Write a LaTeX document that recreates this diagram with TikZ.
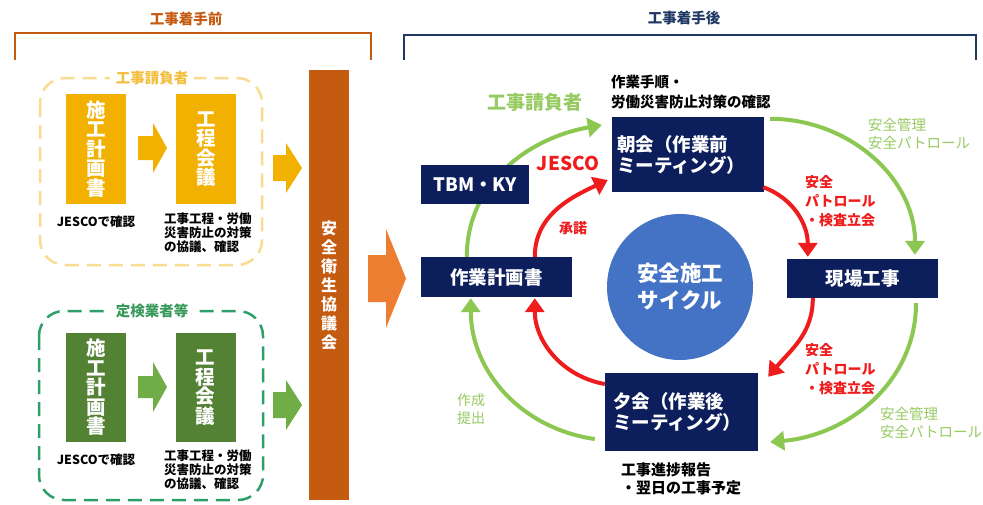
\documentclass[tikz,border=0pt]{standalone}
\usepackage{fontspec}
\setmainfont{Noto Sans CJK JP}
\usetikzlibrary{arrows.meta,positioning}

\definecolor{cbrown}{HTML}{C55A11}
\definecolor{corange}{HTML}{ED7D31}
\definecolor{cyellow}{HTML}{F2B000}
\definecolor{cyellowdash}{HTML}{F8DC90}
\definecolor{cyellowtxt}{HTML}{F3BE3C}
\definecolor{cgreen}{HTML}{548235}
\definecolor{cgreenarr}{HTML}{70AD47}
\definecolor{cteal}{HTML}{2E9E6B}
\definecolor{ctealtxt}{HTML}{3A9A5C}
\definecolor{cnavy}{HTML}{0D1E5C}
\definecolor{cbracket}{HTML}{1F3864}
\definecolor{cblue}{HTML}{4472C4}
\definecolor{cred}{HTML}{EE1C1C}
\definecolor{clight}{HTML}{8CC751}
\definecolor{clighttxt}{HTML}{97CB62}

% block arrow: colour, x0, x head, x tip, y centre, shaft half, head half
\newcommand{\blockarrow}[7]{%
  \fill[#1] (#2,#5+#6) -- (#3,#5+#6) -- (#3,#5+#7) -- (#4,#5) -- (#3,#5-#7) -- (#3,#5-#6) -- (#2,#5-#6) -- cycle;}

\begin{document}
\begin{tikzpicture}[x=1pt, y=1pt, >={Triangle[length=14pt,width=19pt]},
    vbox/.style={minimum width=60pt, minimum height=110pt, inner sep=0pt, text=white, align=center,
      font=\bfseries\fontsize{19.5}{19.5}\selectfont},
    navybox/.style={fill=cnavy, text=white, inner sep=0pt, font=\bfseries\fontsize{18.5}{21}\selectfont},
    note/.style={inner sep=0pt, align=left, font=\bfseries\fontsize{12.5}{14}\selectfont},
    grplbl/.style={fill=white, inner xsep=6pt, inner ysep=0pt, font=\bfseries\fontsize{14.5}{15}\selectfont},
    blbl/.style={inner sep=0pt, align=left, font=\bfseries\fontsize{14.5}{20}\selectfont},
    rlbl/.style={inner sep=0pt, align=left, text=cred, font=\bfseries\fontsize{14}{19}\selectfont},
    glbl/.style={inner sep=0pt, align=left, text=clighttxt, font=\fontsize{14.5}{18}\selectfont},
    garrow/.style={->, draw=clight, line width=4pt},
    rarrow/.style={->, draw=cred, line width=4pt}]
  \fill[white] (0,-504) rectangle (983,0);
  \useasboundingbox (0,-504) rectangle (983,0);

  % brackets
  \draw[cbrown, line width=2.5pt] (15,-60) -- (15,-33) -- (371,-33) -- (371,-60);
  \node[font=\bfseries\fontsize{14.5}{15}\selectfont, text=cbrown] (before) at (186,-19) {工事着手前};
  \draw[cbracket, line width=2.5pt] (404,-60) -- (404,-35) -- (976,-35) -- (976,-60);
  \node[font=\bfseries\fontsize{14.5}{15}\selectfont, text=cbracket] (after) at (684,-18) {工事着手後};

  % before: contractor
  \draw[cyellowdash, line width=2.5pt, dash pattern=on 14pt off 8pt, rounded corners=25pt] (40,-78) rectangle (262,-265);
  \node[grplbl, text=cyellowtxt] (grp1) at (152,-78) {工事請負者};
  \node[vbox, fill=cyellow] (plan1) at (96,-149) {施\\工\\計\\画\\書};
  \node[vbox, fill=cyellow] (meet1) at (206,-149) {工\\程\\会\\議};
  \node[note, below=11pt of plan1] (chk1) {JESCOで確認};
  \node[note, anchor=north west] (agr1) at (164,-213) {工事工程・労働\\災害防止の対策\\の協議、確認};
  \blockarrow{cyellow}{138}{153}{167}{-148}{12}{25}
  \blockarrow{cyellow}{273}{286}{302}{-168}{13}{25}

  % before: inspection contractors
  \draw[cteal, line width=2.5pt, dash pattern=on 14pt off 8pt, rounded corners=25pt] (39,-311) rectangle (263,-500);
  \node[grplbl, text=ctealtxt] (grp2) at (152,-311) {定検業者等};
  \node[vbox, fill=cgreen, minimum height=109pt] (plan2) at (96,-387.5) {施\\工\\計\\画\\書};
  \node[vbox, fill=cgreen, minimum height=109pt] (meet2) at (205.5,-387.5) {工\\程\\会\\議};
  \node[note, below=11pt of plan2] (chk2) {JESCOで確認};
  \node[note, anchor=north west] (agr2) at (164,-450) {工事工程・労働\\災害防止の対策\\の協議、確認};
  \blockarrow{cgreenarr}{138}{153}{167}{-387}{11}{25}
  \blockarrow{cgreenarr}{273}{286}{302}{-405}{13}{25}

  % council
  \node[fill=cbrown, minimum width=40pt, minimum height=430pt, inner sep=0pt, text=white, align=center,
    font=\bfseries\fontsize{16}{19}\selectfont] (council) at (329,-285) {安\\全\\衛\\生\\協\\議\\会};
  \blockarrow{corange}{368}{386}{406}{-278.5}{23.5}{49.5}

  % after: cycle
  \node[circle, fill=cblue, minimum size=146pt, inner sep=0pt, text=white, align=center,
    font=\bfseries\fontsize{21.5}{27}\selectfont] (cycle) at (680,-287) {安全施工\\サイクル};
  \node[navybox, minimum width=152pt, minimum height=75pt, text width=142pt, inner xsep=5pt, align=left] (morning) at (688,-154.5) {朝会（作業前\\ミーティング）};
  \node[navybox, minimum width=151pt, minimum height=40pt] (plan) at (496.5,-277) {作業計画書};
  \node[navybox, minimum width=151pt, minimum height=39pt] (site) at (862.5,-278.5) {現場工事};
  \node[navybox, minimum width=153pt, minimum height=78pt, text width=137pt, inner xsep=8pt, align=left] (evening) at (681.5,-412) {夕会（作業後\\ミーティング）};

  \draw[garrow] ([shift={(46,0)}]plan.north west) to [out=90, in=190] ([shift={(-10,29.5)}]morning.west);
  \node[navybox, minimum width=108pt, minimum height=39pt] (tbm) at (475,-184.5) {TBM・KY};
  \draw[rarrow] ([shift={(114,0)}]plan.north west) to [out=90, in=205] ([shift={(-4,-25.5)}]morning.west);
  \draw[garrow] ([shift={(6,-2)}]morning.north east) to [out=0, in=90] ([shift={(52.5,4)}]site.north);
  \draw[rarrow] ([shift={(-1,5)}]morning.south east) to [out=-20, in=90] ([shift={(21,2)}]site.north west);
  \draw[rarrow] ([shift={(26,0)}]site.south west) to [out=-90, in=50] ([shift={(10,-4)}]evening.north east);
  \draw[garrow] ([shift={(53.5,-5)}]site.south) to [out=-90, in=5] ([shift={(12,-30)}]evening.east);
  \draw[rarrow] ([shift={(0,28)}]evening.west) to [out=170, in=-90] ([shift={(114,-1)}]plan.south west);
  \draw[garrow] ([shift={(-10,-27)}]evening.west) to [out=172, in=-90] ([shift={(50,-1)}]plan.south west);

  % labels
  \node[blbl, anchor=west] (steps) at (611,-92) {作業手順・\\労働災害防止対策の確認};
  \node[text=clighttxt, font=\bfseries\fontsize{19}{20}\selectfont] (contr) at (535,-102) {工事請負者};
  \node[text=cred, font=\bfseries\fontsize{19}{20}\selectfont] (jesco) at (568,-163) {JESCO};
  \node[rlbl] (consent) at (573,-228) {承諾};
  \node[glbl, anchor=west] (mgmt1) at (868,-133.5) {安全管理\\安全パトロール};
  \node[rlbl, anchor=west] (patrol1) at (805,-201) {安全\\パトロール\\・検査立会};
  \node[rlbl, anchor=west] (patrol2) at (805,-369.5) {安全\\パトロール\\・検査立会};
  \node[glbl, anchor=west] (mgmt2) at (880,-422.5) {安全管理\\安全パトロール};
  \node[glbl, anchor=west, font=\fontsize{14}{18}\selectfont] (submit) at (457,-409) {作成\\提出};
  \node[blbl, anchor=west, font=\bfseries\fontsize{15}{18}\selectfont] (report) at (621,-479) {工事進捗報告\\・翌日の工事予定};
\end{tikzpicture}
\end{document}
